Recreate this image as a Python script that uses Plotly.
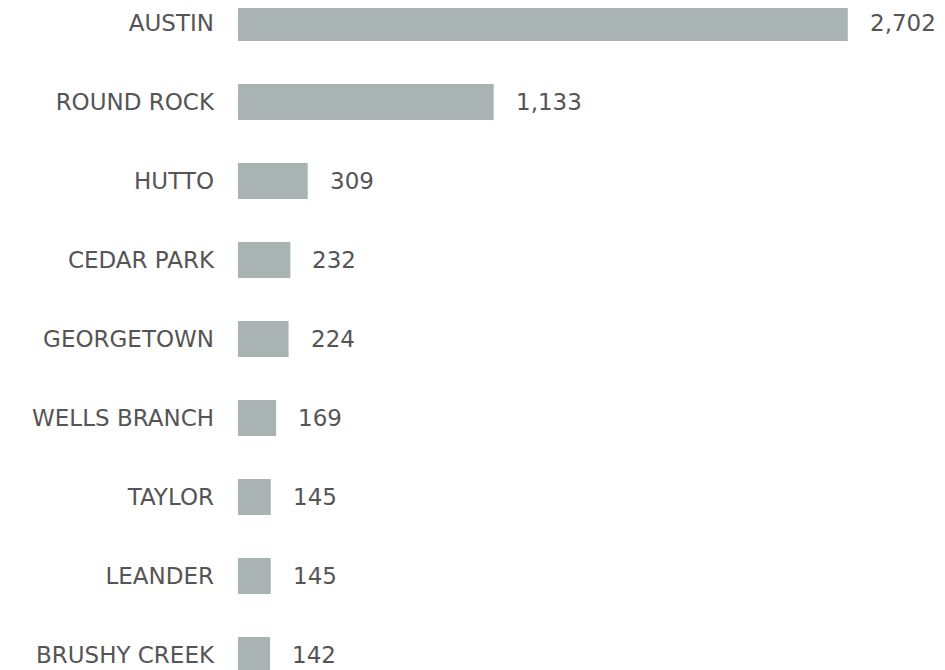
import plotly.graph_objects as go

cities = ["AUSTIN", "ROUND ROCK", "HUTTO", "CEDAR PARK", "GEORGETOWN",
          "WELLS BRANCH", "TAYLOR", "LEANDER", "BRUSHY CREEK"]
counts = [2702, 1133, 309, 232, 224, 169, 145, 145, 142]

bar_color = "#a9b3b1"
text_color = "#555555"
font_family = "DejaVu Sans"

fig = go.Figure(go.Bar(
    x=counts,
    y=cities,
    orientation="h",
    marker=dict(color=bar_color, line=dict(width=0)),
    hoverinfo="x+y",
))

# value labels to the right of each bar
for city, v in zip(cities, counts):
    fig.add_annotation(
        x=v, y=city, text=f"{v:,}",
        xanchor="left", yanchor="middle", xshift=20,
        showarrow=False,
        font=dict(family=font_family, size=23, color=text_color),
    )

fig.update_layout(
    width=945,
    height=670,
    margin=dict(l=230, r=38, t=0, b=0),
    paper_bgcolor="white",
    plot_bgcolor="white",
    bargap=0.544,
    showlegend=False,
    font=dict(family=font_family, size=23, color=text_color),
    xaxis=dict(range=[0, 3000], visible=False, showgrid=False, zeroline=False),
    yaxis=dict(
        range=[8.291, -0.19],
        showgrid=False,
        zeroline=False,
        showline=False,
        ticks="",
        ticklabelstandoff=23,
        tickfont=dict(family=font_family, size=23, color=text_color),
    ),
)

fig.write_html("out.html")
